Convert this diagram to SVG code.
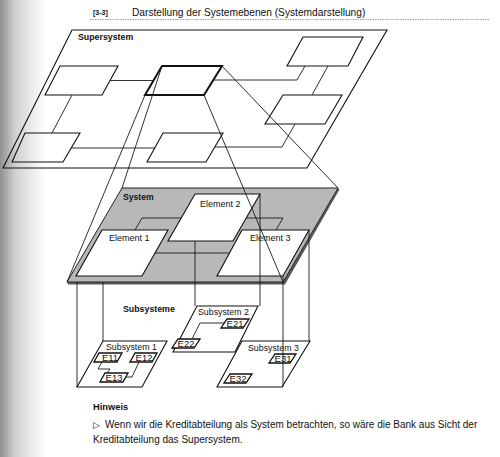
<svg xmlns="http://www.w3.org/2000/svg" width="500" height="457" viewBox="0 0 500 457">
<defs>
<linearGradient id="shade" x1="0" y1="0" x2="1" y2="0">
<stop offset="0" stop-color="#909090"/>
<stop offset="0.35" stop-color="#d2d2d2"/>
<stop offset="1" stop-color="#ffffff"/>
</linearGradient>
</defs>
<style>
.t{font-family:"Liberation Sans",Arial,Helvetica,sans-serif;fill:#111}
.b{font-weight:bold}
.box{fill:none;stroke:#111;stroke-width:1.1}
.bold{fill:none;stroke:#111;stroke-width:2}
.wbox{fill:#fff;stroke:#111;stroke-width:1.1}
.ebox{fill:#fff;stroke:#111;stroke-width:1.3}
.ln{fill:none;stroke:#1a1a1a;stroke-width:0.9}
.sm{font-size:9px}
.e{font-size:9.5px;text-anchor:middle}
</style>
<rect width="500" height="457" fill="#fff"/>
<rect x="0" y="0" width="45" height="457" fill="url(#shade)"/>

<g id="title">
<text class="t b" x="93" y="15" font-size="7">[3-3]</text>
<text class="t" x="132" y="15.5" font-size="10.2">Darstellung der Systemebenen (Systemdarstellung)</text>
<line x1="90" y1="19.5" x2="490" y2="19.5" stroke="#888" stroke-width="0.8" stroke-dasharray="1.5 1"/>
</g>

<g id="supersystem">
<polygon class="box" points="72,30 387,30 307,168 3,168"/>
<text class="t b" x="78" y="39.5" font-size="8.8">Supersystem</text>
</g>
<g id="super-a"><polygon class="box" points="60,66 118,66 102,95 45,95"/></g>
<g id="super-b"><polygon class="box" points="25,133 80,133 63,162 12,162"/></g>
<g id="super-c"><polygon class="bold" points="162,66 222,66 204,95 145,95"/></g>
<g id="super-d"><polygon class="box" points="303,37 363,37 348,66 287,66"/></g>
<g id="super-e"><polygon class="box" points="283,95 342,95 325,124 265,124"/></g>
<g id="super-f"><polygon class="box" points="163,133 223,133 206,162 147,162"/></g>

<g id="system">
<polygon points="67,282 283,282 338,188 339.5,189.5 285,284.5 68,284.5" fill="#5a5a5a"/>
<polygon points="122,188 338,188 283,282 67,282" fill="#b8b8b8" stroke="#222" stroke-width="1"/>
<text class="t b" x="123" y="200" font-size="8.6">System</text>
</g>
<g id="element-1">
<polygon class="wbox" points="102,230 168,230 142,276 76,276"/>
<text class="t sm" x="109" y="241">Element 1</text>
</g>
<g id="element-2">
<polygon class="wbox" points="195,194 260,194 233,241 168,241"/>
<text class="t sm" x="200" y="207">Element 2</text>
</g>
<g id="element-3">
<polygon class="wbox" points="242,230 309,230 283,276 217,276"/>
<text class="t sm" x="250" y="241">Element 3</text>
</g>

<g id="subsysteme-label">
<text class="t b" x="123" y="312" font-size="8.8">Subsysteme</text>
</g>
<g id="subsystem-1">
<polygon class="wbox" points="103,341 167,341 142,387 77,387"/>
<text class="t" x="106" y="350" font-size="8.8">Subsystem 1</text>
</g>
<g id="subsystem-2">
<polygon class="wbox" points="197,306 258,306 235,352 173,352"/>
<text class="t" x="198" y="315" font-size="8.8">Subsystem 2</text>
</g>
<g id="subsystem-3">
<polygon class="wbox" points="242,341 310,341 282,387 217,387"/>
<text class="t" x="248" y="351" font-size="8.8">Subsystem 3</text>
</g>
<g id="e11"><polygon class="ebox" points="99,353 122,353 117,362 94,362"/><text class="t e" x="110" y="361">E11</text></g>
<g id="e12"><polygon class="ebox" points="135,353 157,353 152,362 130,362"/><text class="t e" x="144" y="361">E12</text></g>
<g id="e13"><polygon class="ebox" points="105,373 128,373 123,382 100,382"/><text class="t e" x="114" y="381">E13</text></g>
<g id="e21"><polygon class="ebox" points="227,319 249,319 243,328 221,328"/><text class="t e" x="235" y="327">E21</text></g>
<g id="e22"><polygon class="ebox" points="178,339 200,339 194,348 172,348"/><text class="t e" x="186" y="347">E22</text></g>
<g id="e31"><polygon class="ebox" points="275,354 296,354 290,363 269,363"/><text class="t e" x="283" y="362">E31</text></g>
<g id="e32"><polygon class="ebox" points="230,374 252,374 246,383 224,383"/><text class="t e" x="238" y="382">E32</text></g>

<g id="connectors" class="ln">
<path d="M110,80.5 H154"/>
<path d="M213,80 H297 L305,66"/>
<path d="M328,66 L312,95"/>
<path d="M295,124 L282,147 H215"/>
<path d="M155,148 H71"/>
<path d="M52,133 L72,95"/>
<path d="M142,218 H181 M246,218 H283 M142,218 L135,230 M283,218 L276,230 M155,253 H229"/>
<path d="M77,282 V387 M103,282 V341"/>
<path d="M195,241 V306 M260,194 V306"/>
<path d="M309,230 V341 M283,276 V387"/>
<path d="M102,362 L98,369 H110 L107,373"/>
<path d="M139,362 L132,377 H126"/>
<path d="M224,323 H200 L192,339"/>
<path d="M162,66 L122,188"/>
<path d="M145,95 L67,282"/>
<path d="M222,66 L338,188"/>
<path d="M204,95 L283,282"/>
</g>

<g id="hinweis">
<text class="t b" x="93" y="410" font-size="9.3">Hinweis</text>
<text class="t" x="93" y="428" font-size="9" fill="#444">▷</text>
<text class="t" x="105" y="428" font-size="10">Wenn wir die Kreditabteilung als System betrachten, so wäre die Bank aus Sicht der</text>
<text class="t" x="93" y="443" font-size="10">Kreditabteilung das Supersystem.</text>
</g>
</svg>
